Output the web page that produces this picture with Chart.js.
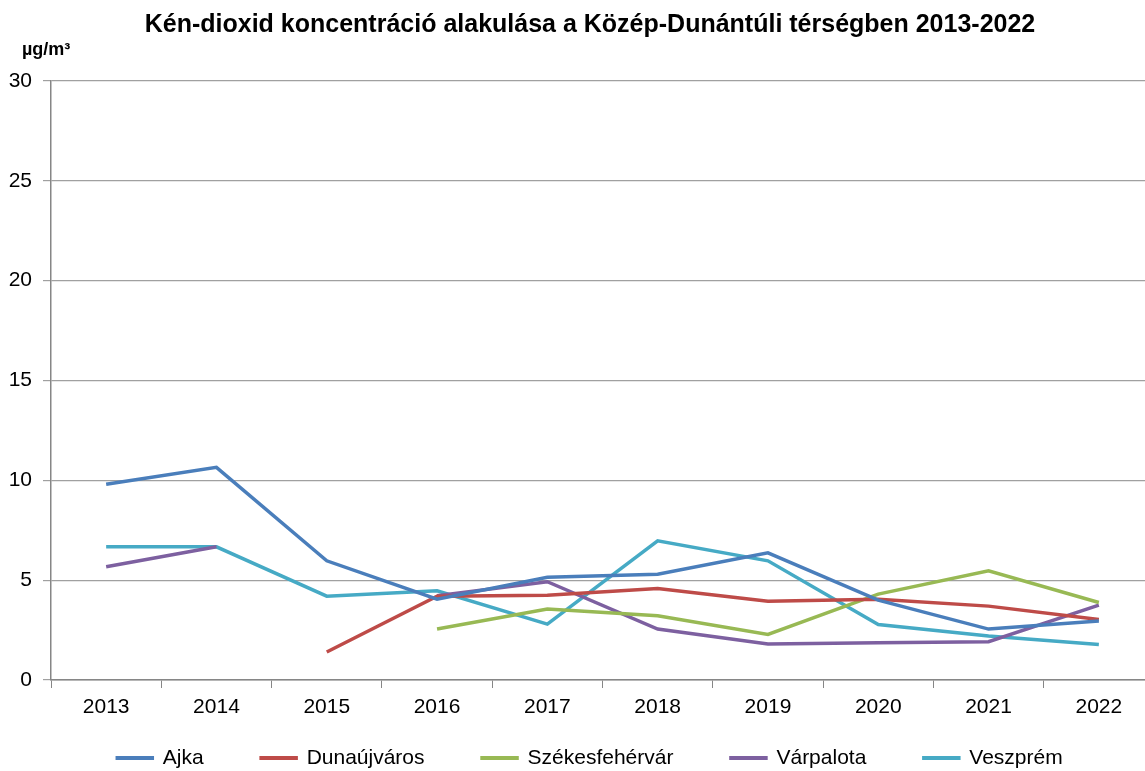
<!DOCTYPE html>
<html>
<head>
<meta charset="utf-8">
<script src="https://cdn.jsdelivr.net/npm/chart.js@4"></script>
<style>
html,body{margin:0;padding:0;background:#fff;overflow:hidden;}
#wrap{position:absolute;left:0;top:0;width:1180px;height:771px;}
</style>
</head>
<body>
<div id="wrap"><canvas id="c" width="1180" height="771"></canvas></div>
<script>
const years = ['2013','2014','2015','2016','2017','2018','2019','2020','2021','2022'];
const ajka = [9.8, 10.65, 5.97, 4.05, 5.15, 5.3, 6.37, 4.0, 2.55, 2.95];
const dunaujvaros = [null, null, 1.4, 4.2, 4.25, 4.58, 3.95, 4.05, 3.7, 3.03];
const szekesfehervar = [null, null, null, 2.55, 3.55, 3.22, 2.28, 4.3, 5.47, 3.88];
const varpalota = [5.67, 6.67, null, 4.22, 4.92, 2.55, 1.8, 1.87, 1.92, 3.75];
const veszprem = [6.67, 6.67, 4.2, 4.47, 2.8, 6.97, 5.97, 2.78, 2.2, 1.78];
const seriesNames = ['Ajka','Dunaújváros','Székesfehérvár','Várpalota','Veszprém'];
const seriesColors = ['#4A7EBB','#BE4B48','#98B954','#7D60A0','#46AAC5'];
const yTicks = [0,5,10,15,20,25,30];
const titleText = 'Kén-dioxid koncentráció alakulása a Közép-Dunántúli térségben 2013-2022';
const unitText = 'µg/m³';

Chart.defaults.font.family = '"Liberation Sans", Arial, sans-serif';
Chart.defaults.color = '#000';

const legendPad = 57.5;

const seriesData = [ajka, dunaujvaros, szekesfehervar, varpalota, veszprem];
const datasets = seriesNames.map((n,i)=>({
  label: n,
  data: seriesData[i],
  borderColor: seriesColors[i],
  backgroundColor: seriesColors[i],
  borderWidth: 3.5,
  pointRadius: 0,
  pointHoverRadius: 0,
  tension: 0,
  spanGaps: false,
  fill: false
}));

const layoutFix = {
  id: 'layoutFix',
  afterLayout(chart){
    if (chart.titleBlock){ chart.titleBlock.left += 13; chart.titleBlock.right += 13; }
    if (chart.legend){ chart.legend.left += 13; chart.legend.right += 13; }
    chart.scales.x.bottom = chart.height;
  },
  afterDraw(chart){
    const ctx = chart.ctx;
    ctx.save();
    ctx.font = 'bold 18px "Liberation Sans", Arial, sans-serif';
    ctx.fillStyle = '#000';
    ctx.textBaseline = 'alphabetic';
    ctx.textAlign = 'left';
    ctx.fillText(unitText, 22, 55);
    ctx.restore();
  }
};

new Chart(document.getElementById('c'), {
  type: 'line',
  data: { labels: years, datasets },
  plugins: [layoutFix],
  options: {
    responsive: false,
    animation: false,
    devicePixelRatio: 1,
    layout: { padding: { left: 0, right: 26, top: 0, bottom: -7.5 } },
    plugins: {
      title: {
        display: true,
        text: titleText,
        font: { size: 25, weight: 'bold' },
        color: '#000',
        padding: { top: 10, bottom: 41 }
      },
      legend: {
        position: 'bottom',
        labels: {
          boxWidth: 35,
          boxHeight: 0.5,
          padding: legendPad,
          font: { size: 21 },
          color: '#000'
        }
      },
      tooltip: { enabled: false }
    },
    scales: {
      x: {
        type: 'category',
        offset: true,
        grid: { display: true, drawOnChartArea: false, drawTicks: true, tickLength: 8, offset: true, color: '#868686' },
        border: { color: '#868686', width: 1.5 },
        ticks: { font: { size: 21 }, color: '#000', padding: 7, maxRotation: 0, autoSkip: false },
        afterFit(scale){ scale.height = 747.5 - legendPad - 680; }
      },
      y: {
        min: 0, max: 30,
        afterBuildTicks(scale){ scale.ticks = yTicks.map(v=>({value:v})); },
        grid: { color: '#a0a0a0', lineWidth: 1.2, tickLength: 8, drawTicks: true },
        border: { color: '#868686', width: 1.5 },
        ticks: { font: { size: 21 }, color: '#000', padding: 11 },
        afterFit(scale){ scale.width = 51; }
      }
    }
  }
});
</script>
</body>
</html>
